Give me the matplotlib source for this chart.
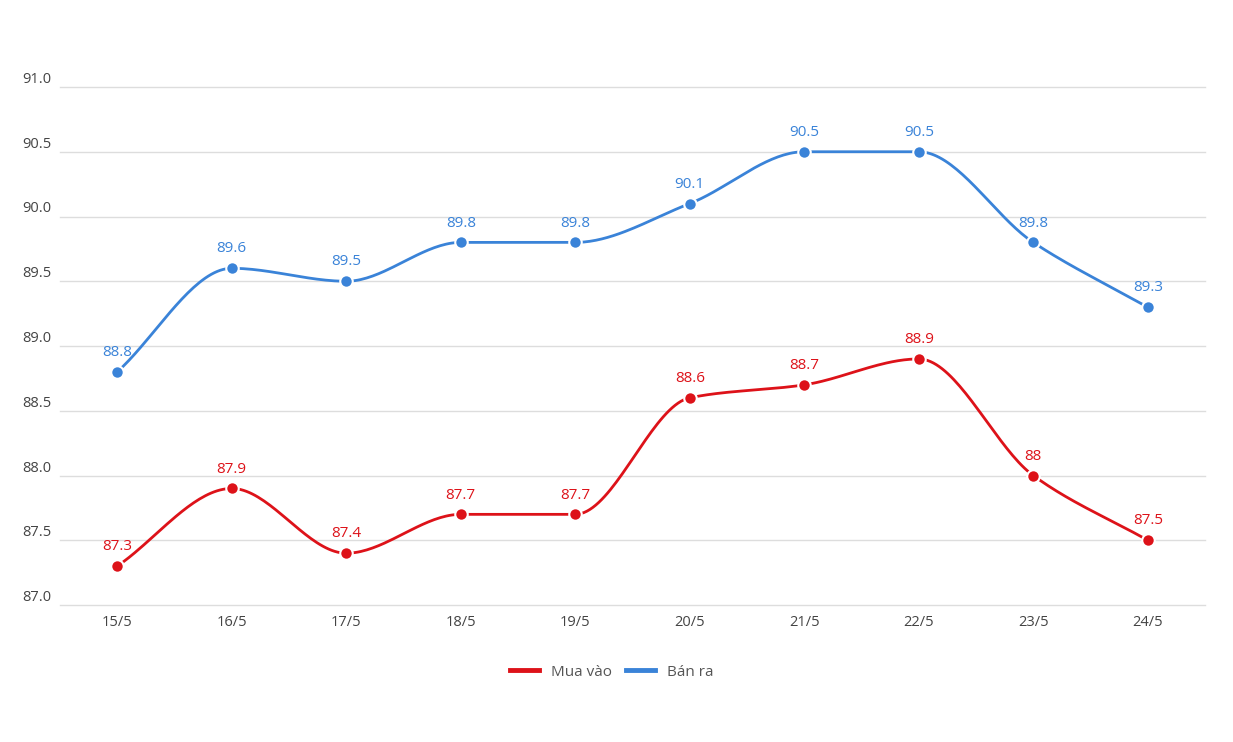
import numpy as np
import matplotlib
matplotlib.use("Agg")
import matplotlib.pyplot as plt
from matplotlib.lines import Line2D

dates = ["15/5", "16/5", "17/5", "18/5", "19/5", "20/5", "21/5", "22/5", "23/5", "24/5"]
mua_vao = [87.3, 87.9, 87.4, 87.7, 87.7, 88.6, 88.7, 88.9, 88.0, 87.5]
ban_ra = [88.8, 89.6, 89.5, 89.8, 89.8, 90.1, 90.5, 90.5, 89.8, 89.3]
mua_labels = ["87.3", "87.9", "87.4", "87.7", "87.7", "88.6", "88.7", "88.9", "88", "87.5"]
ban_labels = ["88.8", "89.6", "89.5", "89.8", "89.8", "90.1", "90.5", "90.5", "89.8", "89.3"]
yticks = [87.0, 87.5, 88.0, 88.5, 89.0, 89.5, 90.0, 90.5, 91.0]

RED = "#dd1219"
BLUE = "#3a83d8"

plt.rcParams['font.family'] = ['Open Sans', 'DejaVu Sans']


def monotone(x, y, n=40):
    x = np.asarray(x, float); y = np.asarray(y, float)
    h = np.diff(x); d = np.diff(y) / h
    m = np.zeros_like(y)
    m[0] = d[0]; m[-1] = d[-1]
    for i in range(1, len(y) - 1):
        if d[i - 1] * d[i] <= 0:
            m[i] = 0
        else:
            w1 = 2 * h[i] + h[i - 1]; w2 = h[i] + 2 * h[i - 1]
            m[i] = (w1 + w2) / (w1 / d[i - 1] + w2 / d[i])
    xs, ys = [], []
    for i in range(len(x) - 1):
        t = np.linspace(0, 1, n)
        h00 = 2 * t**3 - 3 * t**2 + 1; h10 = t**3 - 2 * t**2 + t
        h01 = -2 * t**3 + 3 * t**2; h11 = t**3 - t**2
        xs.extend(x[i] + t * h[i])
        ys.extend(h00 * y[i] + h10 * h[i] * m[i] + h01 * y[i + 1] + h11 * h[i] * m[i + 1])
    return np.array(xs), np.array(ys)


fig = plt.figure(figsize=(12.33, 7.42), dpi=100)
ax = fig.add_axes([60 / 1233, 1 - 605 / 742, 1145 / 1233, 518 / 742])
x = np.arange(len(dates))
ax.set_xlim(-0.5, len(dates) - 0.5)
ax.set_ylim(87.0, 91.0)

for vals, labs, col in [(ban_ra, ban_labels, BLUE), (mua_vao, mua_labels, RED)]:
    xs, ys = monotone(x, vals)
    ax.plot(xs, ys, color=col, lw=2.0, zorder=3, solid_capstyle='round')
    ax.plot(x, vals, 'o', color=col, ms=9, mec='white', mew=1.5, zorder=4)
    for xi, v, s in zip(x, vals, labs):
        ax.annotate(s, (xi, v), xytext=(0, 8.5), textcoords='offset points',
                    ha='center', va='bottom', color=col, fontsize=11, zorder=5)

ax.set_yticks(yticks)
ax.set_yticklabels([f"{v:.1f}" for v in yticks])
ax.grid(axis='y', color='#dddddd', lw=1)
for gl in ax.yaxis.get_gridlines():
    gl.set_clip_on(False)
ax.set_axisbelow(True)
for sp in ax.spines.values():
    sp.set_visible(False)
ax.tick_params(axis='y', length=0, pad=27.5, labelsize=10.5, labelcolor='#444444')
for lab in ax.get_yticklabels():
    lab.set_horizontalalignment('left')
    lab.set_verticalalignment('bottom')
ax.set_xticks(x)
ax.set_xticklabels(dates)
ax.tick_params(axis='x', length=0, pad=7, labelsize=10.5, labelcolor='#444444')

handles = [Line2D([], [], color=RED, lw=3.5), Line2D([], [], color=BLUE, lw=3.5)]
fig.legend(handles, ["Mua vào", "Bán ra"], loc='center', bbox_to_anchor=(612 / 1233, 1 - 672 / 742),
           ncol=2, frameon=False, fontsize=11, labelcolor='#555555', handlelength=1.9,
           handletextpad=0.8, columnspacing=0.9)

fig.savefig("out.png", dpi=100)
